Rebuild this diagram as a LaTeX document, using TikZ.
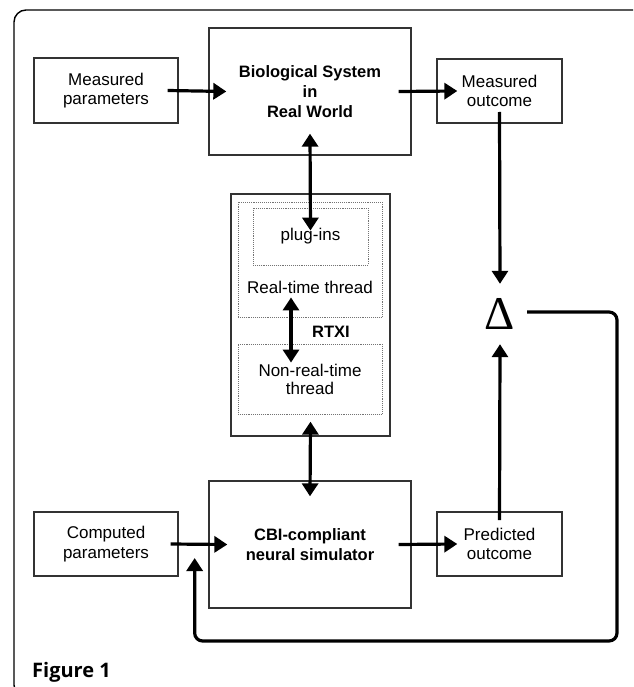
\documentclass[tikz,border=0pt]{standalone}
\usepackage{fontspec}
\setmainfont{Liberation Sans}
\newfontfamily\deltafont{Liberation Serif}
\newfontfamily\figfont{Open Sans}
\usetikzlibrary{arrows.meta}

\begin{document}
\begin{tikzpicture}[x=1pt, y=-1pt,
    box/.style={draw=black!80, line width=1.3pt, align=center, inner sep=0pt,
      font=\fontsize{17}{19.5}\selectfont},
    dotbox/.style={draw=black!55, densely dotted, line width=0.9pt, align=center,
      inner sep=0pt, font=\fontsize{17}{18}\selectfont},
    flow/.style={line width=3.2pt, -{Triangle[length=13pt,width=16pt]}},
    biflow/.style={line width=3.2pt,
      {Triangle[length=13pt,width=16pt]}-{Triangle[length=13pt,width=16pt]}}]
  \useasboundingbox (0,0) rectangle (633,687);
  % Draw the frame round the figure
  \begin{scope}
    \clip (0,0) rectangle (633,687);
    \draw[line width=1.4pt, rounded corners=12pt] (14,10) rectangle (660,697);
  \end{scope}
  % Draw the real world row
  \node[box, minimum width=144pt, minimum height=65pt] (mparam) at (106,90.5) {Measured\\parameters};
  \node[box, minimum width=202pt, minimum height=127pt, font=\fontsize{16.5}{20}\selectfont\bfseries] (biosys) at (310,91.5) {Biological System\\in\\Real World};
  \node[box, minimum width=125pt, minimum height=64pt] (mout) at (499.5,91) {Measured\\outcome};
  % Draw RTXI with its threads
  \node[box, minimum width=159pt, minimum height=242pt] (rtxi) at (310.5,315) {};
  \node[dotbox, minimum width=144pt, minimum height=115pt] (rtthread) at (310,259.5) {};
  \node[dotbox, minimum width=115pt, minimum height=57pt] (plugins) at (310.5,236.5) {\raisebox{-4pt}{plug-ins}};
  \node[font=\fontsize{17}{19}\selectfont] (rtlabel) at (310,287) {Real-time thread};
  \node[font=\fontsize{16.5}{19}\selectfont\bfseries] (rtxilabel) at (331,332) {RTXI};
  \node[dotbox, minimum width=144pt, minimum height=70pt] (nrt) at (310,379) {Non-real-time\\thread};
  % Draw the simulated row
  \node[box, minimum width=144pt, minimum height=64pt] (cparam) at (106,544) {Computed\\parameters};
  \node[box, minimum width=202pt, minimum height=127pt, font=\fontsize{16.5}{20}\selectfont\bfseries] (cbi) at (310,544.5) {CBI-compliant\\neural simulator};
  \node[box, minimum width=125pt, minimum height=64pt] (pout) at (499.5,544) {Predicted\\outcome};
  % Draw the difference
  \node[inner sep=0pt, minimum width=54pt, minimum height=60pt, font=\deltafont\fontsize{47}{47}\selectfont] (delta) at (500,314) {Δ};
  % Draw the arrows
  \draw[flow] ([xshift=-11pt]mparam.east) -- ([xshift=18pt]biosys.west);
  \draw[flow] ([xshift=-13pt]biosys.east) -- ([xshift=21pt]mout.west);
  \draw[biflow] ([yshift=22pt]biosys.south) -- ([yshift=-23pt]plugins.north);
  \draw[biflow] ([xshift=-19pt,yshift=20pt]rtthread.south) -- ([xshift=-19pt,yshift=-19pt]nrt.north);
  \draw[biflow] ([yshift=15pt]rtxi.south) -- ([yshift=-16pt]cbi.north);
  \draw[flow] ([xshift=-8pt]cparam.east) -- ([xshift=19pt]cbi.west);
  \draw[flow] ([xshift=-13pt]cbi.east) -- ([xshift=21pt]pout.west);
  \draw[flow] ([yshift=-21pt]mout.center) -- (delta.north);
  \draw[flow] ([yshift=24pt]pout.center) -- (delta.south);
  % Draw the feedback loop
  \coordinate (fbturn) at (617,641);
  \coordinate (fbin) at ([xshift=16pt,yshift=-14pt]cparam.east);
  \draw[flow, rounded corners=8pt] ([yshift=2pt]delta.east) -| (fbturn) -| (fbin);
  % Caption
  \node[anchor=base west, inner sep=0pt, font=\figfont\bfseries\fontsize{20}{24}\selectfont] (caption) at (32,677) {Figure 1};
\end{tikzpicture}
\end{document}
